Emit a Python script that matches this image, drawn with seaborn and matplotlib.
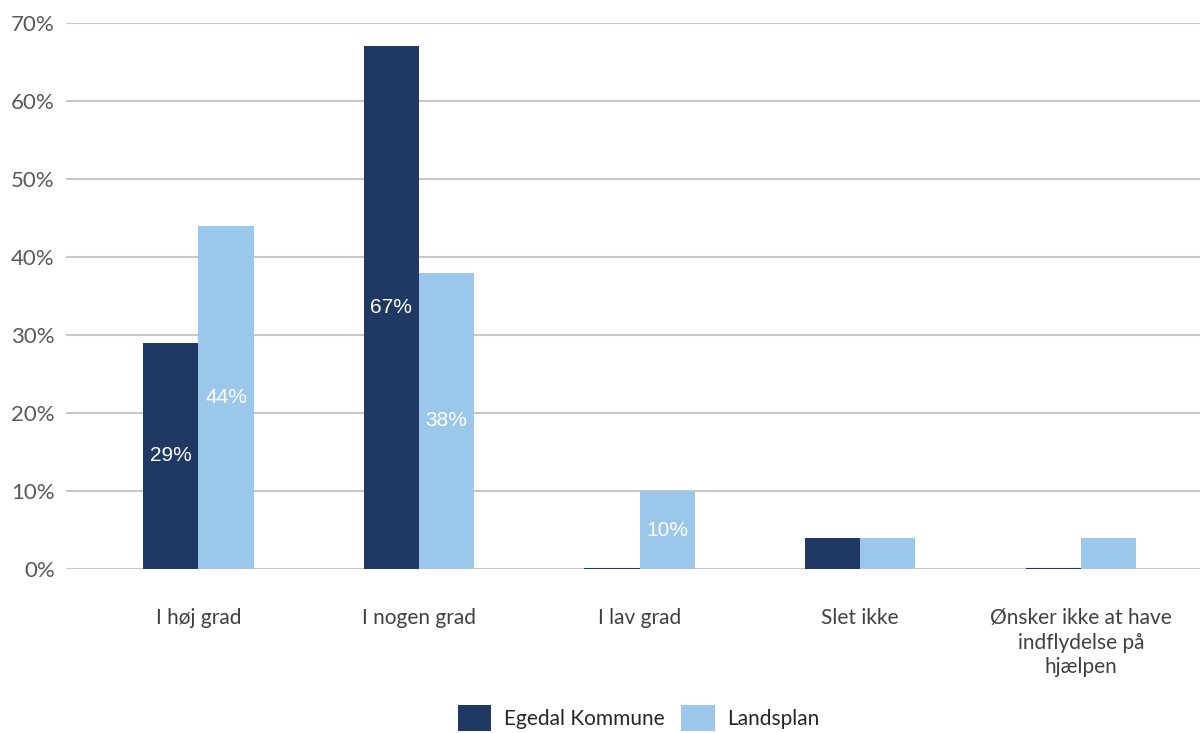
import matplotlib
matplotlib.use('Agg')
import matplotlib.pyplot as plt
import pandas as pd
import seaborn as sns

# data
categories = ['I høj grad', 'I nogen grad', 'I lav grad', 'Slet ikke',
              'Ønsker ikke at have\nindflydelse på\nhjælpen']
egedal = [29, 67, 0, 4, 0]
landsplan = [44, 38, 10, 4, 4]
series_names = ['Egedal Kommune', 'Landsplan']
yticks = [0, 10, 20, 30, 40, 50, 60, 70]

dark = '#1F3864'
light = '#9BC8EA'

sns.set_theme(style='white')
plt.rcParams['font.family'] = ['Lato', 'DejaVu Sans']

df = pd.DataFrame({
    'kategori': categories * 2,
    'serie': [series_names[0]] * len(categories) + [series_names[1]] * len(categories),
    'andel': egedal + landsplan,
})

fig = plt.figure(figsize=(12.02, 7.33), dpi=100)
ax = fig.add_axes([66 / 1202, 1 - 569 / 733, 1134 / 1202, 546 / 733])

sns.barplot(data=df, x='kategori', y='andel', hue='serie',
            palette=[dark, light], width=0.5, gap=0, saturation=1,
            ax=ax, legend=True)

# zero-height bars still show as a thin line in the original
for bars, col in zip(ax.containers, [dark, light]):
    for b in bars:
        b.set_zorder(3)
        b.set_edgecolor(col)
        b.set_linewidth(1.5 if b.get_height() == 0 else 0)
    labels = ['%d%%' % round(b.get_height()) if b.get_height() >= 10 else '' for b in bars]
    ax.bar_label(bars, labels=labels, label_type='center', color='white',
                 fontsize=15, family='Liberation Sans')

ax.set_ylim(0, 70)
ax.set_xlim(-0.6, 4.54)
ax.set_yticks(yticks)
ax.set_yticklabels(['%d%%' % t for t in yticks])
ax.yaxis.grid(True, color='#C8C8C8', linewidth=1.5, zorder=0)
ax.set_axisbelow(True)
for s in ax.spines.values():
    s.set_visible(False)
ax.set_xlabel('')
ax.set_ylabel('')
ax.tick_params(axis='y', labelsize=16, colors='#595959', pad=8, length=0)
ax.tick_params(axis='x', labelsize=15, colors='#404040', pad=28, length=0)
for t in ax.get_xticklabels():
    t.set_linespacing(1.3)
    t.set_verticalalignment('top')

leg = ax.legend(loc='upper center', bbox_to_anchor=(0.505, -0.215), ncol=2,
                frameon=False, fontsize=15, handlelength=1.6, handleheight=1.5,
                columnspacing=0.8, handletextpad=0.6)
for txt in leg.get_texts():
    txt.set_color('#262626')
for h in leg.legend_handles:
    h.set_linewidth(0)

fig.savefig('out.png', dpi=100)
